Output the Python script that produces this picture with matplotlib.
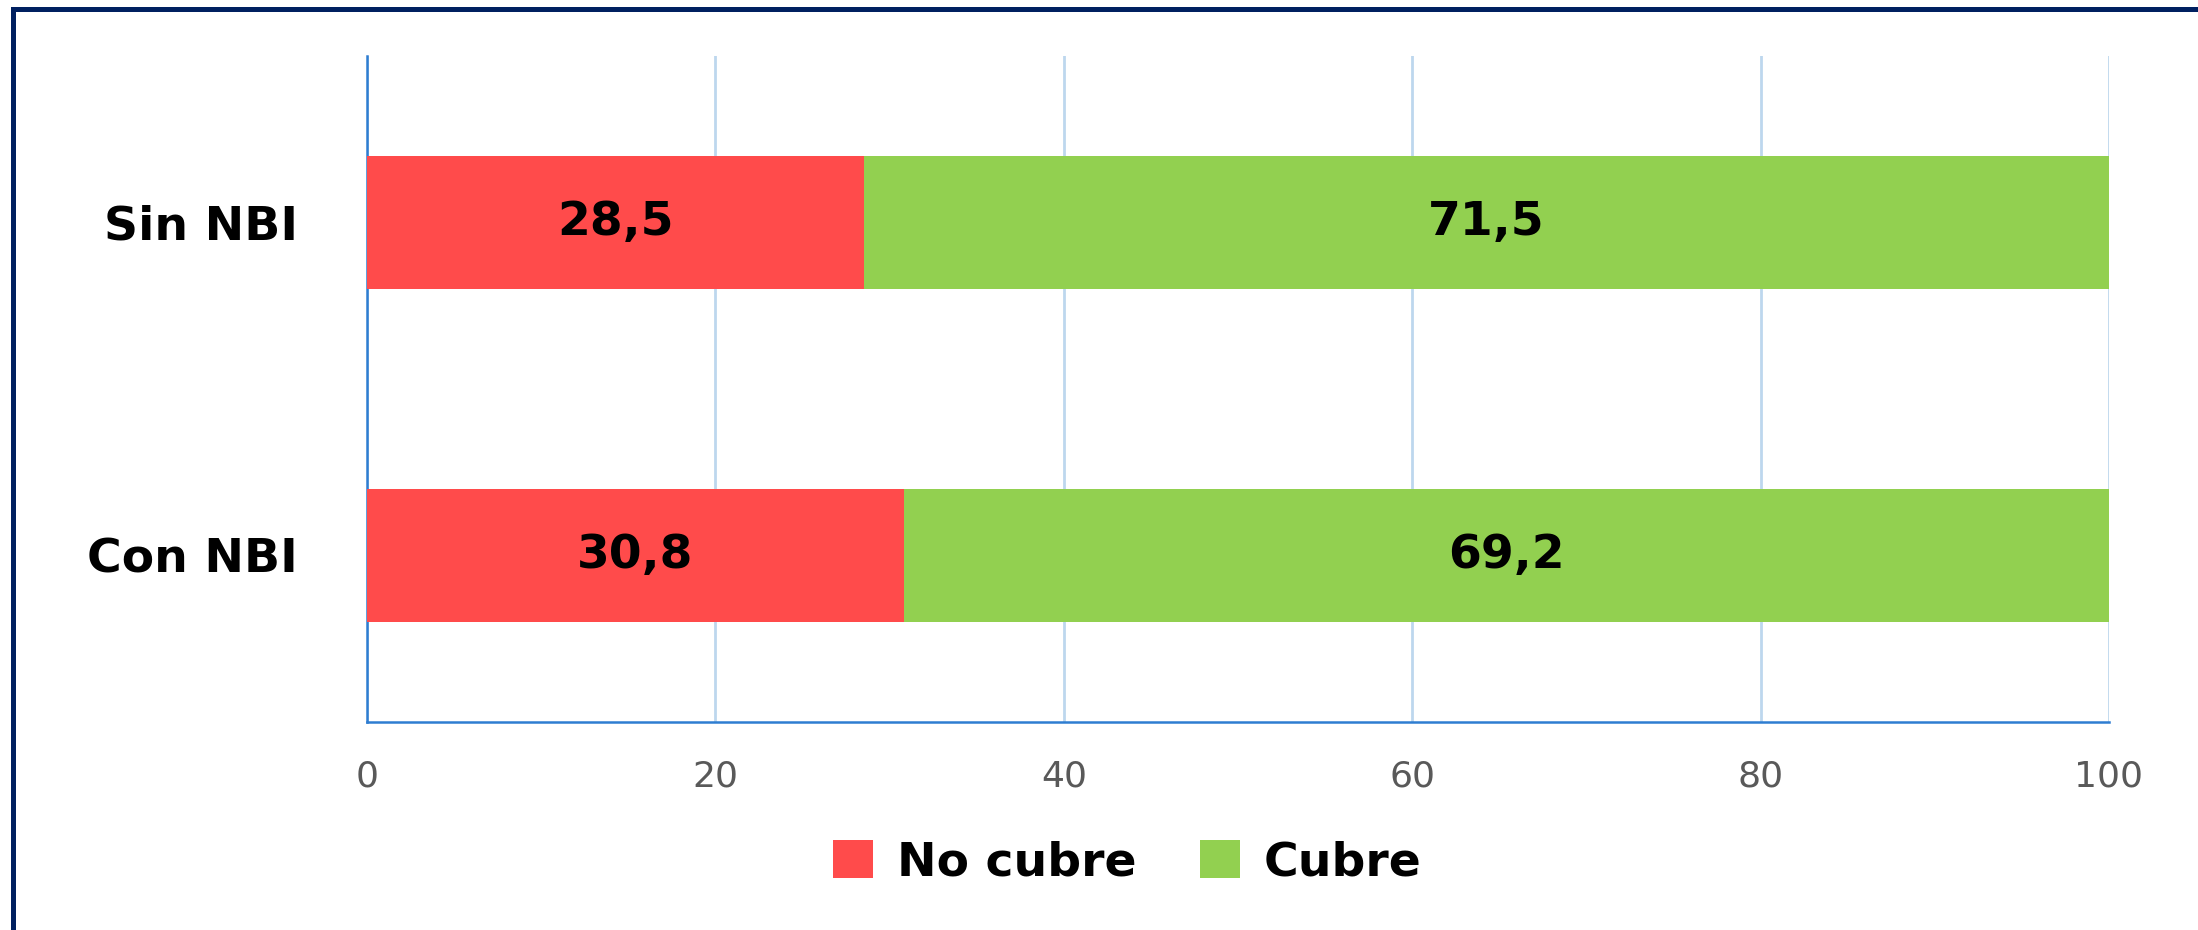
import matplotlib.pyplot as plt
import numpy as np
from matplotlib.lines import Line2D

# data
categories = ['Con NBI', 'Sin NBI']
no_cubre = [30.8, 28.5]
cubre = [69.2, 71.5]
labels = ['No cubre', 'Cubre']
xticks = [0, 20, 40, 60, 80, 100]

red = '#FF4B4B'
green = '#92D050'

fig = plt.figure(figsize=(21.98, 9.30), dpi=100)
ax = fig.add_axes([0.167, 0.2237, 0.7925, 0.7161])

y = np.arange(len(categories))
b1 = ax.barh(y, no_cubre, height=0.4, color=red, label=labels[0], zorder=3)
b2 = ax.barh(y, cubre, left=no_cubre, height=0.4, color=green, label=labels[1], zorder=3)

for i in range(len(categories)):
    ax.text(no_cubre[i] / 2, y[i], f'{no_cubre[i]:.1f}'.replace('.', ','),
            ha='center', va='center', fontsize=34, fontweight='bold', zorder=4)
    ax.text(no_cubre[i] + cubre[i] / 2, y[i], f'{cubre[i]:.1f}'.replace('.', ','),
            ha='center', va='center', fontsize=34, fontweight='bold', zorder=4)

ax.set_xlim(0, 100)
ax.set_ylim(-0.5, 1.5)
ax.set_xticks(xticks)
ax.set_yticks(y)
ax.set_yticklabels(categories, fontsize=34, fontweight='bold')
ax.tick_params(axis='y', length=0, pad=50)
ax.tick_params(axis='x', length=0, pad=27, labelsize=26, labelcolor='#595959')

ax.grid(axis='x', color='#BDD7EE', linewidth=2, zorder=0)
ax.grid(axis='y', visible=False)
for s in ['top', 'right']:
    ax.spines[s].set_visible(False)
for s in ['left', 'bottom']:
    ax.spines[s].set_color('#2E7DD1')
    ax.spines[s].set_linewidth(1.8)

fig.legend(handles=[b1, b2], labels=labels, loc='center', bbox_to_anchor=(0.513, 0.072),
           ncol=2, frameon=False, prop={'size': 34, 'weight': 'bold'},
           handlelength=0.85, handleheight=0.85, handletextpad=0.5, columnspacing=1.35)

# outer frame (top and left edges)
fig.add_artist(Line2D([0.00614, 1.0], [0.9903, 0.9903], transform=fig.transFigure,
                      color='#002060', linewidth=3.6))
fig.add_artist(Line2D([0.00614, 0.00614], [0.0, 0.9903], transform=fig.transFigure,
                      color='#002060', linewidth=3.6))

fig.savefig('out.png', dpi=100)
